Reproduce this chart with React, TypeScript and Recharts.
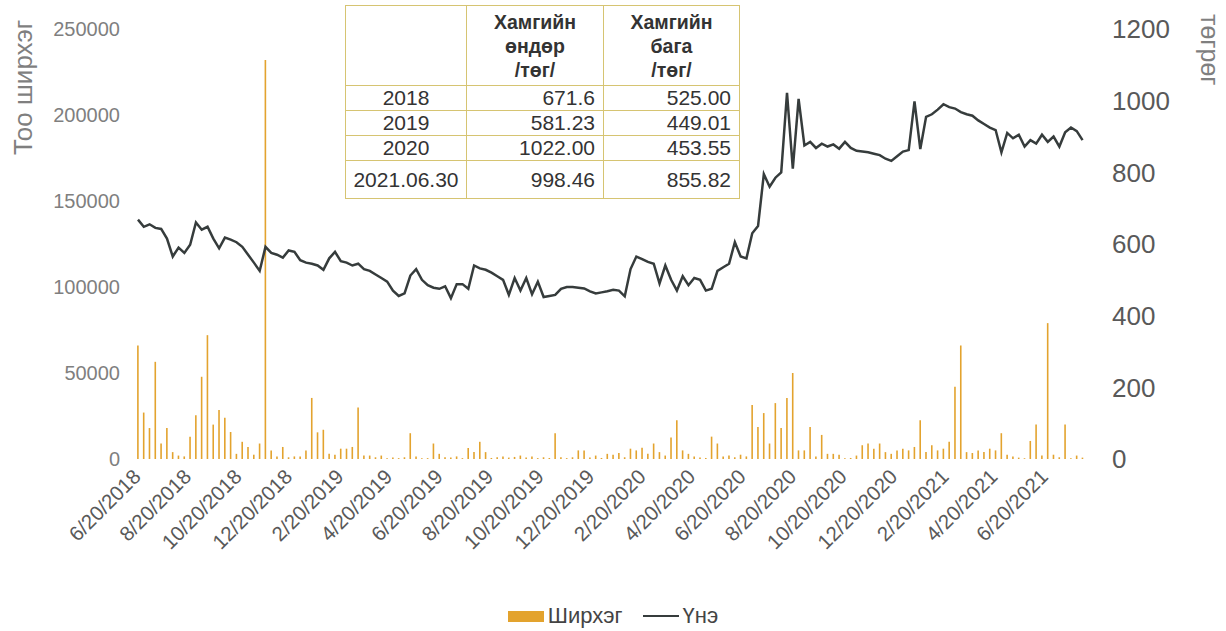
import { ComposedChart, Bar, Line, XAxis, YAxis, Legend } from 'recharts';

// weekly observations starting 2018-06-20
const START_DATE = '2018-06-20';
const STEP_DAYS = 7;

// Үнэ (төгрөг), one value per week
const PRICE = [
  668, 648, 655, 645, 642, 615, 565, 590, 575, 598,
  660, 640, 648, 615, 588, 618, 612, 605, 592, 570,
  548, 525, 592, 575, 570, 562, 582, 578, 555, 548,
  545, 540, 528, 560, 578, 552, 548, 540, 545, 530,
  525, 515, 505, 495, 470, 455, 462, 512, 530, 500,
  485, 478, 475, 482, 449, 488, 488, 475, 540, 532,
  528, 520, 510, 500, 458, 505, 470, 505, 460, 495,
  452, 455, 458, 475, 480, 480, 478, 476, 468, 462,
  465, 468, 472, 470, 454, 530, 565, 558, 550, 545,
  490, 540, 500, 470, 510, 485, 505, 500, 470, 475,
  525, 535, 545, 605, 565, 560, 630, 650, 795, 760,
  785, 800, 1022, 810, 1005, 875, 885, 868, 880, 872,
  878, 866, 885, 868, 860, 858, 856, 852, 848, 838,
  832, 845, 858, 862, 998, 865, 955, 962, 975, 990,
  982, 978, 968, 962, 958, 945, 935, 925, 918, 856,
  910, 895, 905, 872, 890, 880, 905, 885, 900, 872,
  912, 925, 915, 890,
];

// Ширхэг, one value per week
const QTY = [
  66000, 27000, 18000, 56500, 9000, 18000, 4000, 2000, 1500, 13000,
  25500, 47800, 72000, 20000, 28500, 24000, 15700, 3000, 10000, 7000,
  2500, 9000, 232000, 5000, 1500, 7000, 1000, 1500, 1500, 5000,
  35500, 15500, 17000, 3000, 2500, 6000, 6000, 7000, 30000, 2000,
  2000, 1000, 2000, 500, 800, 500, 1000, 15000, 1500, 500,
  500, 9000, 3000, 1000, 800, 1500, 500, 6400, 4000, 10000,
  4000, 600, 1000, 1500, 800, 1200, 2000, 800, 1500, 500,
  1000, 600, 15000, 1000, 500, 1000, 5000, 5000, 800, 2000,
  600, 3000, 2500, 3500, 1000, 6000, 5000, 6500, 3000, 9000,
  4000, 2000, 12500, 22600, 5000, 3000, 1500, 800, 600, 13000,
  9000, 1500, 2000, 1000, 2500, 1500, 31400, 18600, 26700, 9000,
  32500, 18000, 35500, 50000, 5000, 5000, 18600, 1500, 14000, 3000,
  3000, 2500, 500, 600, 2000, 8000, 9000, 6000, 9000, 4000,
  3000, 5000, 6000, 5000, 7000, 22600, 4000, 8000, 5000, 6000,
  10000, 42000, 66000, 4000, 3500, 5000, 4000, 6000, 5000, 15000,
  2500, 1500, 800, 500, 10500, 20000, 2000, 79000, 2500, 1000,
  20000, 500, 2000, 800,
];

const TICK_DATES = [
  '2018-06-20', '2018-08-20', '2018-10-20', '2018-12-20', '2019-02-20',
  '2019-04-20', '2019-06-20', '2019-08-20', '2019-10-20', '2019-12-20',
  '2020-02-20', '2020-04-20', '2020-06-20', '2020-08-20', '2020-10-20',
  '2020-12-20', '2021-02-20', '2021-04-20', '2021-06-20',
];

const LEFT_TICKS = [0, 50000, 100000, 150000, 200000, 250000];
const RIGHT_TICKS = [0, 200, 400, 600, 800, 1000, 1200];

const TABLE_HEAD = ['', 'Хамгийн\nөндөр\n/төг/', 'Хамгийн\nбага\n/төг/'];
const TABLE_YEARS = ['2018', '2019', '2020', '2021.06.30'];
const TABLE_HIGH = ['671.6', '581.23', '1022.00', '998.46'];
const TABLE_LOW = ['525.00', '449.01', '453.55', '855.82'];

const DAY = 86400000;
const start = Date.parse(START_DATE);
const data = PRICE.map((p, i) => ({
  t: start + i * STEP_DAYS * DAY,
  price: p,
  qty: QTY[i],
}));
const ticks = TICK_DATES.map((d) => Date.parse(d));

const FONT = "'Liberation Sans', Arial, sans-serif";
const BAR_COLOR = '#e3a32e';
const LINE_COLOR = '#363c3c';

const fmtDate = (v: number) => {
  const d = new Date(v);
  return `${d.getUTCMonth() + 1}/${d.getUTCDate()}/${d.getUTCFullYear()}`;
};

function DateTick({ x, y, payload }: any) {
  return (
    <g transform={`translate(${x + 4},${y + 11})`}>
      <text textAnchor="end" transform="rotate(-45)" fill="#595959" fontSize={20.5} fontFamily={FONT}>
        {fmtDate(payload.value)}
      </text>
    </g>
  );
}

const renderLegend = () => (
  <div
    style={{
      height: 40,
      display: 'flex',
      justifyContent: 'center',
      alignItems: 'center',
      gap: 20,
      fontFamily: FONT,
      fontSize: 22,
      color: '#444',
      paddingTop: 10,
      boxSizing: 'border-box',
    }}
  >
    <span style={{ display: 'flex', alignItems: 'center' }}>
      <span style={{ display: 'inline-block', width: 36, height: 11, background: BAR_COLOR, marginRight: 4 }} />
      Ширхэг
    </span>
    <span style={{ display: 'flex', alignItems: 'center' }}>
      <span style={{ display: 'inline-block', width: 36, height: 2, background: LINE_COLOR, marginRight: 4 }} />
      Үнэ
    </span>
  </div>
);

const cell: React.CSSProperties = {
  border: '1px solid #d6c472',
  padding: '0 8px',
  fontSize: 21,
  color: '#333',
  textAlign: 'right',
};

export default function App() {
  return (
    <div style={{ position: 'relative', width: 1226, height: 631, background: '#fff' }}>
      <style>{'body{margin:0}'}</style>
      <ComposedChart
        width={1226}
        height={631}
        data={data}
        margin={{ top: 29, right: 0, bottom: 0, left: 0 }}
      >
        <XAxis
          dataKey="t"
          type="number"
          scale="time"
          domain={[start - 1.2 * DAY, start + 1150 * DAY]}
          ticks={ticks}
          tick={<DateTick />}
          tickLine={false}
          axisLine={false}
          interval={0}
          height={132}
        />
        <YAxis
          yAxisId="left"
          domain={[0, 250000]}
          ticks={LEFT_TICKS}
          width={137}
          tickLine={false}
          axisLine={false}
          tickMargin={11}
          tick={{ fill: '#7f7f7f', fontSize: 20, fontFamily: FONT }}
        />
        <YAxis
          yAxisId="right"
          orientation="right"
          domain={[0, 1200]}
          ticks={RIGHT_TICKS}
          width={136}
          tickLine={false}
          axisLine={false}
          tickMargin={16}
          tick={{ fill: '#595959', fontSize: 26, fontFamily: FONT, textAnchor: 'start' }}
        />
        <Legend verticalAlign="bottom" content={renderLegend} />
        <Bar
          yAxisId="left"
          dataKey="qty"
          name="Ширхэг"
          fill={BAR_COLOR}
          barSize={1.6}
          isAnimationActive={false}
        />
        <Line
          yAxisId="right"
          dataKey="price"
          name="Үнэ"
          stroke={LINE_COLOR}
          strokeWidth={2.5}
          dot={false}
          type="linear"
          isAnimationActive={false}
        />
      </ComposedChart>

      <div
        style={{
          position: 'absolute',
          left: 8,
          top: 155,
          transformOrigin: 'left top',
          transform: 'rotate(-90deg)',
          fontFamily: FONT,
          fontSize: 26,
          color: '#7f7f7f',
          whiteSpace: 'nowrap',
        }}
      >
        Тоо ширхэг
      </div>
      <div
        style={{
          position: 'absolute',
          left: 1224,
          top: 14,
          transformOrigin: 'left top',
          transform: 'rotate(90deg)',
          fontFamily: FONT,
          fontSize: 25,
          color: '#7f7f7f',
          whiteSpace: 'nowrap',
        }}
      >
        төгрөг
      </div>

      <table
        style={{
          position: 'absolute',
          left: 345,
          top: 5,
          width: 394,
          height: 192,
          borderCollapse: 'collapse',
          fontFamily: FONT,
          background: '#fff',
          tableLayout: 'fixed',
        }}
      >
        <colgroup>
          <col style={{ width: 121 }} />
          <col style={{ width: 137 }} />
          <col style={{ width: 136 }} />
        </colgroup>
        <tbody>
          <tr style={{ height: 80 }}>
            {TABLE_HEAD.map((h, i) => (
              <td
                key={i}
                style={{
                  ...cell,
                  textAlign: 'center',
                  fontWeight: 'bold',
                  fontSize: 19.5,
                  lineHeight: '24px',
                  whiteSpace: 'pre-line',
                  verticalAlign: 'middle',
                }}
              >
                {h}
              </td>
            ))}
          </tr>
          {TABLE_YEARS.map((y, i) => (
            <tr key={y} style={{ height: i === 3 ? 38 : 25 }}>
              <td style={{ ...cell, textAlign: 'center', padding: 0 }}>{y}</td>
              <td style={cell}>{TABLE_HIGH[i]}</td>
              <td style={cell}>{TABLE_LOW[i]}</td>
            </tr>
          ))}
        </tbody>
      </table>
    </div>
  );
}
